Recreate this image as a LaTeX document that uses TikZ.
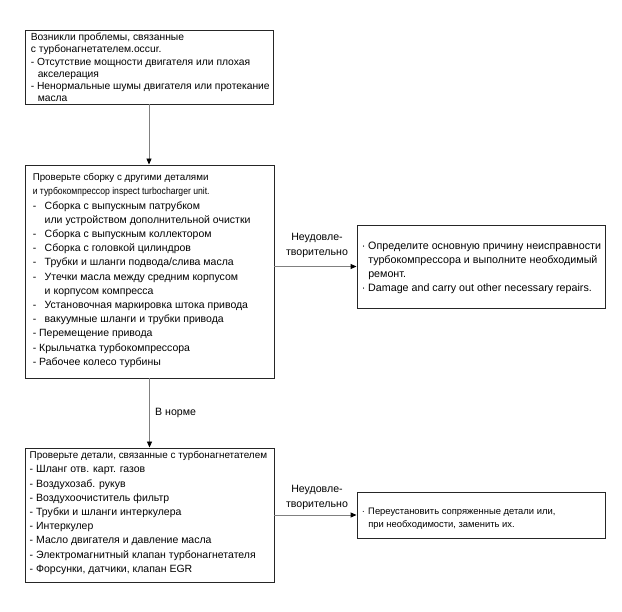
\documentclass[tikz,border=0pt]{standalone}
\usepackage{fontspec}
\usepackage{graphicx}
\setmainfont{Liberation Sans}
\usetikzlibrary{arrows.meta}
\tikzset{
  box/.style={draw=black!85, line width=0.9pt, inner sep=0pt},
  txt/.style={align=left, inner sep=0pt, anchor=west,
    font=\fontsize{10.5}{14.2}\selectfont},
  conn/.style={draw=black!50, line width=0.9pt, -{Triangle[black,length=6pt,width=5pt]}},
  lbl/.style={align=center, inner sep=0pt, font=\fontsize{10.6}{15}\selectfont}
}
\newcommand{\dsh}{\makebox[12pt][l]{-}}
\newcommand{\dind}{\hspace*{12pt}}
\newcommand{\bul}{\makebox[6.5pt][l]{·}}
\newcommand{\hdr}{\fontsize{9.8}{14.2}\selectfont}
\begin{document}
\begin{tikzpicture}[x=1pt,y=-1pt]
\fill[white] (0,0) rectangle (622,612);
\useasboundingbox (0,0) rectangle (622,612);

% boxes
\node[box, minimum width=248pt, minimum height=74pt] (b1) at (149,67) {};
\node[box, minimum width=249pt, minimum height=213pt] (b2) at (149.5,271.5) {};
\node[box, minimum width=249pt, minimum height=134pt] (b3) at (149.5,515) {};
\node[box, minimum width=248pt, minimum height=83pt] (r1) at (481,266.5) {};
\node[box, minimum width=248pt, minimum height=46pt] (r2) at (481,515) {};

% texts
\node[txt, font=\fontsize{10.3}{12.2}\selectfont] (t1) at ([xshift=6pt,yshift=-0.5pt]b1.west) {%
Возникли проблемы, связанные\\
с турбонагнетателем.occur.\\
- Отсутствие мощности двигателя или плохая\\
\hspace*{7pt}акселерация\\
- Ненормальные шумы двигателя или протекание\\
\hspace*{7pt}масла};

\node[txt] (t2) at ([xshift=8pt,yshift=1pt]b2.west) {%
{\hdr Проверьте сборку с другими деталями}\\
{\hdr\scalebox{0.88}[1]{и турбокомпрессор inspect turbocharger unit.}}\\
\dsh Сборка с выпускным патрубком\\
\dind или устройством дополнительной очистки\\
\dsh Сборка с выпускным коллектором\\
\dsh Сборка с головкой цилиндров\\
\dsh Трубки и шланги подвода/слива масла\\
\dsh Утечки масла между средним корпусом\\
\dind и корпусом компресса\\
\dsh Установочная маркировка штока привода\\
\dsh вакуумные шланги и трубки привода\\
- Перемещение привода\\
- Крыльчатка турбокомпрессора\\
- Рабочее колесо турбины};

\node[txt] (t3) at ([xshift=5pt,yshift=2pt]b3.west) {%
{\fontsize{9.9}{14.2}\selectfont Проверьте детали, связанные с турбонагнетателем}\\
- Шланг отв. карт. газов\\
- Воздухозаб. рукув\\
- Воздухоочиститель фильтр\\
- Трубки и шланги интеркулера\\
- Интеркулер\\
- Масло двигателя и давление масла\\
- Электромагнитный клапан турбонагнетателя\\
- Форсунки, датчики, клапан EGR};

\node[txt, font=\fontsize{10.7}{14}\selectfont] (t4) at ([xshift=5pt,yshift=-1pt]r1.west) {%
\bul Определите основную причину неисправности\\
\hspace*{6.5pt}турбокомпрессора и выполните необходимый\\
\hspace*{6.5pt}ремонт.\\
\bul Damage and carry out other necessary repairs.};

\node[txt, font=\fontsize{9.4}{13}\selectfont] (t5) at ([xshift=5pt,yshift=-4pt]r2.west) {%
\bul Переустановить сопряженные детали или,\\
\hspace*{6.5pt}при необходимости, заменить их.};

% connectors
\draw[conn] (b1.south) -- (b1.south |- b2.north);
\draw[conn] (b2.south) -- (b2.south |- b3.north);
\node[lbl, anchor=west] (ok) at (155,413) {В норме};

\draw[conn] (b2.east |- r1.west) -- (r1.west);
\node[lbl] (nok1) at (317,245.5) {Неудовле-\\творительно};

\draw[conn] (b3.east |- r2.west) -- (r2.west);
\node[lbl] (nok2) at (317,497) {Неудовле-\\творительно};
\end{tikzpicture}
\end{document}
